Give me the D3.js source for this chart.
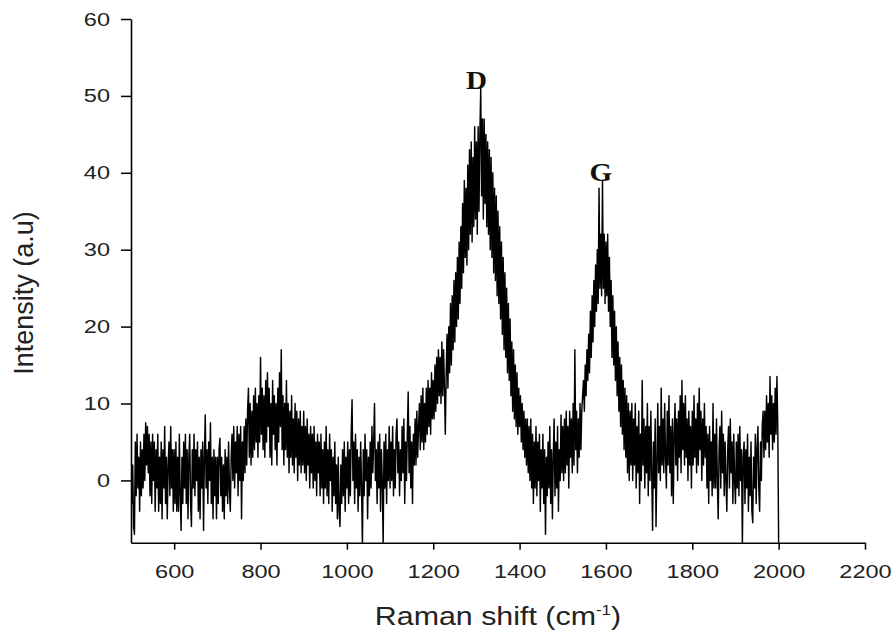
<!DOCTYPE html>
<html>
<head>
<meta charset="utf-8">
<script src="https://cdn.jsdelivr.net/npm/d3@7"></script>
<style>
  body { margin: 0; background: #fff; }
  svg { display: block; }
</style>
</head>
<body>
<svg id="chart" width="896" height="635"></svg>
<script>
// Raman spectrum, sampled every 2 cm-1 from 500 to 2000 cm-1
const shiftStart = 500;
const shiftStep = 2;
const intensity = [
  // 500–598
  4, -3, 2, -6, -7, 5, -2, 6, -1, 3,
  -4, 5, -2, 4, -1, 6, 0, 7.5, 2, 7,
  1, 6, -2, 5, -3, 6, 0, 5, -4, 4,
  -1, 6, -4, 3, -3, 5, -5, 4, -1, 7,
  -3, 3, -5, 2, 5, -2, 7, -1, 4, -4,
  // 600–698
  4, -3, 5, -4, 3, -4, 6, -2, -6.5, 3,
  -3, 5, -1, 6, -3, 4, -5, 3, 6, -3,
  -6, 4, -1, 6, -2, 4, 0, 5, -4, 3,
  -5, 4, -1, 5, -6.5, 3, 8.5, -1, 4, -3,
  5, 0, 7.5, -3, 3, -5, 4, -2, 3, -5,
  // 700–798
  3, -3, 4, 5.5, -2, 3, -4, 2, -5, 4,
  -2, 3, -3, 5, -1, -4, 3, 6, 0, 7,
  -1, 5, 1, 7, -2, 6, 0, 7, -5, 5,
  0, 7, 1, 8, 2, 9, 12, 3, 10, 2,
  9, 3, 11, 4, 12, 5, 10, 3, 11, 5,
  // 800–898
  16, 6, 12, 4, 11, 3, 13, 5, 14, 7,
  12, 3, 10, 2, 13, 6, 11, 4, 10, 2,
  12, 5, 14, 7, 17, 4, 11, 2, 10, 4,
  13, 3, 10, 1, 9, 3, 11, 2, 8, 1,
  10, 3, 9, 0, 8, 2, 9, 1, 7, 2,
  // 900–998
  9, 1, 7, 0, 8, 2, 6, -1, 7, 1,
  6, -1, 7, 0, 5, -2, 6, 1, 5, -2,
  6, -1, 4, -3, 5, -1, 7, -2, 4, -3,
  6, 0, 4, -4, 3, -2, 5, -3, 2, -5,
  3, -4, -6, 2, -3, 4, -2, 5, -4, 3,
  // 1000–1098
  -1, 5, -3, 4, -2, 6, 10.5, 0, 5, -3,
  6, -1, 4, -4, 3, -2, 5, -1, -8.5, 4,
  -2, 6, 0, 4, -5, 3, -2, 5, -1, 7,
  1, 5, 10, 0, 4, -3, 5, -1, 6, -4,
  4, 0, -8.5, 5, -1, 6, -3, 4, 0, 7,
  // 1100–1198
  -1, 5, 0, 7, -2, 4, -1, 6, 8, 1,
  5, -2, 4, 0, 7, 1, 8, -3, 5, 0,
  6, 11.5, 1, 7, -1, 5, -3, 6, 2, 8,
  2, 9, 3, 7, 10, 4, 11, 5, 12, 4,
  10, 5, 12, 6, 13, 7, 12, 6, 14, 8,
  // 1200–1298
  13, 8, 15, 9, 16, 10, 17, 11, 16, 10,
  18, 11, 17, 12, 6, 14, 19, 12, 20, 14,
  23, 15, 24, 17, 26, 18, 27, 20, 29, 21,
  31, 23, 33, 25, 36, 27, 39, 29, 38, 28,
  41, 30, 43, 32, 44, 31, 42, 33, 46, 34,
  // 1300–1398
  44, 32, 46, 35, 45, 51, 37, 47, 34, 47,
  36, 45, 33, 44, 32, 43, 30, 42, 29, 40,
  27, 38, 26, 37, 24, 35, 23, 33, 21, 31,
  19, 29, 17, 27, 16, 25, 14, 23, 13, 21,
  11, 18, 9, 17, 8, 15, 7, 14, 6, 12,
  // 1400–1498
  7, 11, 5, 10, 4, 9, 3, 8, 2, 8,
  1, 7, 0, 8, -1, 6, -3, 5, -1, 7,
  -2, 5, 0, 6, -4, 4, -1, 6, -3, 4,
  -7, 3, -2, 5, -1, 7, -3, 4, -5, 3,
  8, -2, 5, -1, 7, -4, 4, 0, 8.5, 1,
  // 1500–1598
  7, 0, 8, 1, 9, 2, 7, -1, 9, 3,
  8, 1, 10, 2, 17, 4, 9, 1, 8, 3,
  10, 4, 9, 11, 13, 9, 15, 11, 17, 13,
  19, 14, 22, 16, 24, 18, 26, 20, 28, 22,
  30, 23, 38, 25, 32, 24, 39, 25, 32, 23,
  // 1600–1698
  31, 24, 32, 22, 29, 20, 26, 16, 24, 15,
  22, 13, 20, 11, 18, 9, 16, 7, 15, 6,
  13, 4, 12, 3, 11, 1, 10, 0, 9, 2,
  10, 0, 8, 2, 10, -1, 7, 1, 9, -3,
  6, 0, 13, 2, 8, -1, 7, 1, 10, -2,
  // 1700–1798
  7, 0, 9, 1, -6.5, 5, -1, 8, -6, 2,
  10, 1, 7, 0, 12, 2, 8, 1, 10, 3,
  -1, 9, 2, 11, 1, 7, -2, 8, -3, 6,
  10, 2, 8, 0, 9, 3, 11, 1, 13, 4,
  10, 2, 11, 3, 8, 0, 9, 2, 7, -1,
  // 1800–1898
  9, 2, 11, 3, 8, 1, 10, 2, 12, 4,
  9, 0, 8, 2, 10, 3, 7, -1, 6, -3,
  7, 0, 5, -2, 10, -1, 6, -1, 8, 0,
  -5, 4, 7, -1, 9, 1, 6, -2, 5, 0,
  -4, 4, 7, -1, 8, 1, 5, -3, 6, 0,
  // 1900–2000
  -3, 5, -1, 6, -2, 7, 0, 4, -8.5, 3,
  5, -3, 4, -1, 6, -4, 3, -2, 5, -4,
  -5.5, 3, -1, 6, -3, 4, 7, -1, -4, 5,
  0, 7, 9, 3, 9, 4, 11, 5, 10, 3,
  13.5, 6, 11, 4, 10, 5, 12, 6, 13.5, 7,
  -8.5
];

const xDomain = [500, 2200];
const yDomain = [-8.1, 60];
const xMajorTicks = [600, 800, 1000, 1200, 1400, 1600, 1800, 2000, 2200];
const xMinorTicks = [500, 700, 900, 1100, 1300, 1500, 1700, 1900, 2100];
const yMajorTicks = [0, 10, 20, 30, 40, 50, 60];
const yMinorTicks = [-5, 5, 15, 25, 35, 45, 55];

// Band annotations placed over the tallest point of each band
const peakNames = ["D", "G"];
const peakShifts = [1300, 1588];
const peakTops = [51, 39];

const svg = d3.select("#chart");
const plotLeft = 131, plotRight = 865, plotTop = 19, plotBottom = 542.7;

const x = d3.scaleLinear().domain(xDomain).range([plotLeft, plotRight]);
const y = d3.scaleLinear().domain(yDomain).range([plotBottom, plotTop]);

const sans = "'Liberation Sans', Arial, sans-serif";
const stretch = 1.24;

// Spectrum trace, clipped to the plotting area
svg.append("defs").append("clipPath").attr("id", "plotClip")
  .append("rect")
  .attr("x", plotLeft).attr("y", plotTop)
  .attr("width", plotRight - plotLeft).attr("height", plotBottom - plotTop);

const line = d3.line()
  .x((d, i) => x(shiftStart + i * shiftStep))
  .y(d => y(d));

svg.append("path")
  .datum(intensity)
  .attr("clip-path", "url(#plotClip)")
  .attr("fill", "none")
  .attr("stroke", "#000")
  .attr("stroke-width", 1.45)
  .attr("stroke-linejoin", "round")
  .attr("d", line);

// X axis
const gx = svg.append("g").attr("transform", `translate(0,${plotBottom})`);
gx.call(d3.axisBottom(x).tickValues(xMinorTicks).tickSize(4).tickSizeOuter(0).tickFormat(""));
gx.call(d3.axisBottom(x).tickValues(xMajorTicks).tickSize(7).tickSizeOuter(0).tickFormat(d3.format("d")));
gx.selectAll("path.domain").attr("stroke", "#000").attr("stroke-width", 1.6);
gx.selectAll(".tick line").attr("stroke", "#000").attr("stroke-width", 1.5);
gx.selectAll(".tick text")
  .attr("y", 35).attr("dy", 0)
  .attr("fill", "#222")
  .style("font-family", sans).style("font-size", "19px")
  .attr("transform", `scale(${stretch},1)`);

// Y axis
const gy = svg.append("g").attr("transform", `translate(${plotLeft},0)`);
gy.call(d3.axisLeft(y).tickValues(yMinorTicks).tickSize(6).tickSizeOuter(0).tickFormat(""));
gy.call(d3.axisLeft(y).tickValues(yMajorTicks).tickSize(10).tickSizeOuter(0).tickFormat(d3.format("d")));
gy.selectAll("path.domain").attr("stroke", "#000").attr("stroke-width", 1.6);
gy.selectAll(".tick line").attr("stroke", "#000").attr("stroke-width", 1.5);
gy.selectAll(".tick text")
  .attr("x", -21 / stretch)
  .attr("fill", "#222")
  .style("font-family", sans).style("font-size", "19px")
  .attr("transform", `scale(${stretch},1)`);

// Axis titles
const xTitle = svg.append("text")
  .attr("transform", `translate(498,625) scale(${stretch * 0.98},1)`)
  .attr("text-anchor", "middle")
  .attr("fill", "#222")
  .style("font-family", sans).style("font-size", "25px");
xTitle.append("tspan").text("Raman shift (cm");
xTitle.append("tspan").attr("dy", -10).style("font-size", "14px").text("-1");
xTitle.append("tspan").attr("dy", 10).text(")");

svg.append("text")
  .attr("transform", "translate(33,293) rotate(-90)")
  .attr("text-anchor", "middle")
  .attr("fill", "#222")
  .style("font-family", sans).style("font-size", "27px")
  .text("Intensity (a.u)");

// Peak labels
svg.selectAll("text.peak")
  .data(peakNames)
  .join("text")
  .attr("class", "peak")
  .attr("transform", (d, i) => `translate(${x(peakShifts[i])},${y(peakTops[i]) + 1}) scale(1.12,1)`)
  .attr("text-anchor", "middle")
  .attr("fill", "#111")
  .style("font-family", "'Liberation Serif', 'Times New Roman', serif")
  .style("font-weight", "bold")
  .style("font-size", "26px")
  .text(d => d);
</script>
</body>
</html>
